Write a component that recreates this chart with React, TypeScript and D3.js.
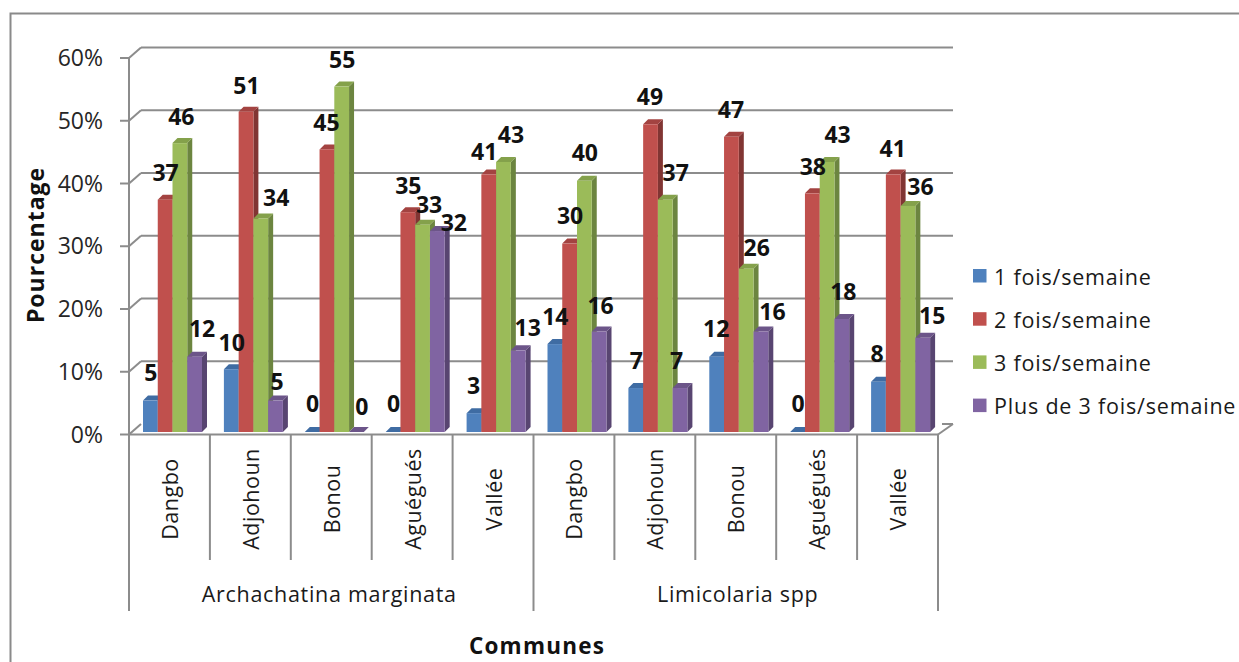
import React from "react";
import * as d3 from "d3";

const communes = ["Dangbo", "Adjohoun", "Bonou", "Aguégués", "Vallée", "Dangbo", "Adjohoun", "Bonou", "Aguégués", "Vallée"];
const species = ["Archachatina marginata", "Limicolaria spp"];
const seriesNames = ["1 fois/semaine", "2 fois/semaine", "3 fois/semaine", "Plus de 3 fois/semaine"];
const once = [5, 10, 0, 0, 3, 14, 7, 12, 0, 8];
const twice = [37, 51, 45, 35, 41, 30, 49, 47, 38, 41];
const thrice = [46, 34, 55, 33, 43, 40, 37, 26, 43, 36];
const more = [12, 5, 0, 32, 13, 16, 7, 16, 18, 15];
const yTicks = [0, 10, 20, 30, 40, 50, 60];

const front = ["#4F81BD", "#C0504D", "#9BBB59", "#8064A2"];
const side = ["#3A5F8C", "#813533", "#6C8540", "#584571"];
const topFace = ["#3F6CA3", "#A34341", "#84A14B", "#6C5589"];

// label nudges relative to the default spot above each bar, one row per series
const nudgeX = [
  [-2, -2, -2, -2, -3, -2, -2, -3, -2, -4],
  [-2, -2, -3, -2, -7, -2, -3, -3, -2, -3],
  [-1, 13, -2, 4, 5, -2, 8, 8, 8, 10],
  [5, -1, 3, 14, 7, -1, -6, 9, -1, 7],
];
const nudgeY = [
  [-5, -3, -5, -5, -4, -4, -4, -5, -5, -5],
  [-4, -3, -3, -3, 0, -5, -4, -4, -3, -3],
  [-3, 3, -4, 3, -4, -5, -4, 2, -4, 4],
  [-5, 4, -2, 15, 1, -3, -4, 3, -4, 1],
];

const FONT = "'Open Sans', Lato, sans-serif";
const GRID = "#8c8c8c";
const DX = 12, DY = 10.5, BAR_DEPTH = 5;

export default function App() {
  const values = [once, twice, thrice, more];
  const idx = communes.map((_, i) => i);
  const x = d3.scaleBand<number>().domain(idx).range([129, 938]);
  const inner = d3.scaleBand<number>().domain([0, 1, 2, 3]).range([14, 73]);
  const axisY = d3.scaleLinear().domain([0, 60]).range([434.5, 58]);
  const barY = d3.scaleLinear().domain([0, 60]).range([432, 55.2]);
  const groupX = d3.scaleBand<number>().domain([0, 1]).range([129, 938]);
  const xEnd = 938;

  return (
    <svg width={1239} height={662} style={{ position: "absolute", left: 0, top: 0, background: "#fff" }} fontFamily={FONT}>
      <path d="M1239,13.5 H10.5 V662" fill="none" stroke="#8a8a8a" strokeWidth={2} />

      {yTicks.map((t) => {
        const y = axisY(t);
        return (
          <g key={t}>
            {t > 0 && <line x1={129 + DX} x2={xEnd + 15} y1={y - DY} y2={y - DY} stroke={GRID} strokeWidth={2} />}
            <line x1={120} x2={129} y1={y} y2={y} stroke={GRID} strokeWidth={2} />
            <line x1={129} x2={129 + DX} y1={y} y2={y - DY} stroke={GRID} strokeWidth={2} />
            <text x={103} y={y - 1} textAnchor="end" dominantBaseline="central" fontSize={23} fill="#262626">{t}%</text>
          </g>
        );
      })}
      <line x1={129} x2={129} y1={axisY(60)} y2={435} stroke={GRID} strokeWidth={2} />
      <line x1={xEnd} x2={xEnd + 15} y1={434.5} y2={434.5 - DY} stroke={GRID} strokeWidth={2} />
      <line x1={xEnd + 15} x2={xEnd + 4} y1={434.5 - DY} y2={434.5 - DY} stroke={GRID} strokeWidth={2} />

      {values.map((vals, s) =>
        idx.map((i) => {
          const x0 = (x(i) as number) + (inner(s) as number);
          const w = inner.bandwidth();
          const yT = barY(vals[i]);
          const yB = barY(0);
          return (
            <g key={`${s}-${i}`}>
              <path d={`M${x0 + w},${yT} l${BAR_DEPTH},-${BAR_DEPTH} V${yB - BAR_DEPTH} l-${BAR_DEPTH},${BAR_DEPTH} Z`} fill={side[s]} />
              <path d={`M${x0},${yT} l${BAR_DEPTH},-${BAR_DEPTH} h${w} l-${BAR_DEPTH},${BAR_DEPTH} Z`} fill={topFace[s]} />
              <rect x={x0} y={yT} width={w} height={yB - yT} fill={front[s]} />
            </g>
          );
        })
      )}

      <line x1={129} x2={xEnd} y1={434.5} y2={434.5} stroke={GRID} strokeWidth={2} />
      {d3.range(0, 11).map((i) => {
        const px = i === 10 ? xEnd : (x(i) as number);
        const long = i % 5 === 0;
        return <line key={i} x1={px} x2={px} y1={434} y2={long ? 611 : 560} stroke={GRID} strokeWidth={2} />;
      })}

      {idx.map((i) => {
        const cx = (x(i) as number) + x.bandwidth() / 2;
        return (
          <text key={i} transform={`translate(${cx},499) rotate(-90)`} textAnchor="middle" dominantBaseline="central" fontSize={21.5} letterSpacing={0.5} fill="#1a1a1a">
            {communes[i]}
          </text>
        );
      })}
      {species.map((sp, i) => (
        <text key={sp} x={(groupX(i) as number) + groupX.bandwidth() / 2 + (i === 0 ? -2 : 2)} y={593} textAnchor="middle" dominantBaseline="central" fontSize={21.5} letterSpacing={0.7} fill="#1a1a1a">
          {sp}
        </text>
      ))}

      {values.map((vals, s) =>
        idx.map((i) => {
          const cx = (x(i) as number) + (inner(s) as number) + inner.bandwidth() / 2 + 2.5;
          const cy = barY(vals[i]) - 24;
          return (
            <text key={`l${s}-${i}`} x={cx + nudgeX[s][i]} y={cy + nudgeY[s][i]} textAnchor="middle" dominantBaseline="central" fontSize={23} fontWeight={700} fill="#111">
              {vals[i]}
            </text>
          );
        })
      )}

      <text transform="translate(35,245) rotate(-90)" textAnchor="middle" dominantBaseline="central" fontSize={23} fontWeight={700} letterSpacing={1} fill="#111">Pourcentage</text>
      <text x={537} y={645.5} textAnchor="middle" dominantBaseline="central" fontSize={22.5} fontWeight={700} letterSpacing={1.2} fill="#111">Communes</text>

      {seriesNames.map((n, s) => {
        const y = 276 + s * 43.2;
        return (
          <g key={n}>
            <rect x={973} y={y - 7} width={13.5} height={13.5} fill={front[s]} />
            <text x={994} y={y} dominantBaseline="central" fontSize={21.5} letterSpacing={0.8} fill="#1a1a1a">{n}</text>
          </g>
        );
      })}
    </svg>
  );
}
